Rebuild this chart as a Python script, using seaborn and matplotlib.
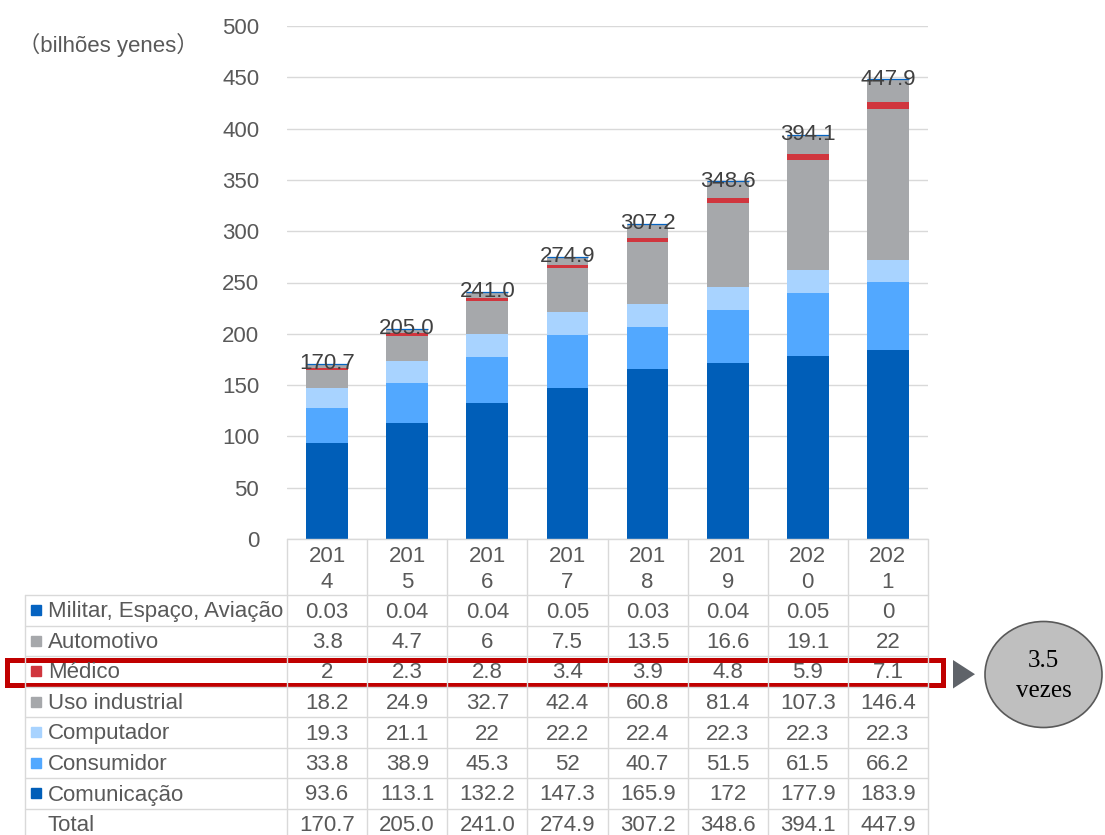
import matplotlib
matplotlib.use("Agg")
import matplotlib.pyplot as plt
import seaborn as sns
import numpy as np
import pandas as pd
from matplotlib.patches import Rectangle, Polygon, Ellipse

# ---------------- data ----------------
years = ["2014", "2015", "2016", "2017", "2018", "2019", "2020", "2021"]
comunicacao = [93.6, 113.1, 132.2, 147.3, 165.9, 172, 177.9, 183.9]
consumidor = [33.8, 38.9, 45.3, 52, 40.7, 51.5, 61.5, 66.2]
computador = [19.3, 21.1, 22, 22.2, 22.4, 22.3, 22.3, 22.3]
uso_industrial = [18.2, 24.9, 32.7, 42.4, 60.8, 81.4, 107.3, 146.4]
medico = [2, 2.3, 2.8, 3.4, 3.9, 4.8, 5.9, 7.1]
automotivo = [3.8, 4.7, 6, 7.5, 13.5, 16.6, 19.1, 22]
militar = [0.03, 0.04, 0.04, 0.05, 0.03, 0.04, 0.05, 0]
totals = [170.7, 205.0, 241.0, 274.9, 307.2, 348.6, 394.1, 447.9]

series_names = ["Comunicação", "Consumidor", "Computador", "Uso industrial",
                "Médico", "Automotivo", "Militar, Espaço, Aviação"]
series_values = [comunicacao, consumidor, computador, uso_industrial,
                 medico, automotivo, militar]
series_colors = ["#005EB8", "#52A8FF", "#A8D3FF", "#A6A8AB",
                 "#D0363E", "#A6A8AB", "#0563C1"]
y_ticks = [0, 50, 100, 150, 200, 250, 300, 350, 400, 450, 500]
unit_label = "（bilhões yenes）"
total_label = "Total"
growth_text = ["3.5", "vezes"]
highlight_series = "Médico"

# ---------------- style ----------------
sns.set_style("white")
plt.rcParams["font.family"] = ["Liberation Sans", "Noto Sans CJK JP", "DejaVu Sans"]
TXT = "#595959"
GRID = "#D9D9D9"
FS = 16

W, H = 1105, 835
fig = plt.figure(figsize=(W / 100, H / 100), dpi=100)

# plot area in pixel coords
px_left, px_right, px_top, px_bottom = 287, 928, 26, 539
ax = fig.add_axes([px_left / W, 1 - px_bottom / H,
                   (px_right - px_left) / W, (px_bottom - px_top) / H])

bottom = np.zeros(len(years))
for name, vals, col in zip(series_names, series_values, series_colors):
    df = pd.DataFrame({"year": years, "value": vals})
    is_top = name.startswith("Militar")
    sns.barplot(data=df, x="year", y="value", bottom=bottom, color=col,
                saturation=1, errorbar=None, width=0.52, ax=ax,
                linewidth=0.9 if is_top else 0,
                edgecolor=col if is_top else "none", zorder=3)
    bottom = bottom + np.array(vals)

for i, t in enumerate(totals):
    ax.text(i, t, f"{t:.1f}", ha="center", va="center", color="#404040",
            fontsize=FS, zorder=6)

ax.set_xlim(-0.5, len(years) - 0.5)
ax.set_ylim(0, 500)
ax.set_yticks(y_ticks)
ax.set_yticklabels([str(v) for v in y_ticks])
ax.tick_params(axis="y", length=0, pad=20, labelsize=FS, labelcolor=TXT)
ax.set_xticks([])
ax.set_xlabel("")
ax.set_ylabel("")
ax.grid(axis="y", color=GRID, linewidth=1, zorder=0)
ax.set_axisbelow(True)
for s in ax.spines.values():
    s.set_visible(False)

# ---------------- overlay (table & annotations) ----------------
ov = fig.add_axes([0, 0, 1, 1], zorder=10)
ov.set_xlim(0, W)
ov.set_ylim(H, 0)
ov.axis("off")
ov.patch.set_alpha(0)

ov.text(18, 45, unit_label, ha="left", va="center", fontsize=FS, color=TXT)

n = len(years)
col_w = (px_right - px_left) / n
row_top0 = 595
row_h = 30.5
table_left = 25
rows = list(reversed(list(zip(series_names, series_values, series_colors))))

# grid lines
ov.plot([px_left, px_right], [px_bottom, px_bottom], color=GRID, lw=1)
for i in range(n + 1):
    x = px_left + i * col_w
    ov.plot([x, x], [px_bottom, H], color=GRID, lw=1)
for j in range(len(rows) + 1):
    y = row_top0 + j * row_h
    ov.plot([table_left, px_right], [y, y], color=GRID, lw=1)
ov.plot([table_left, table_left], [row_top0, H], color=GRID, lw=1)

# header years (wrapped)
for i, yr in enumerate(years):
    cx = px_left + (i + 0.5) * col_w
    ov.text(cx, 557, yr[:3], ha="center", va="center", fontsize=FS, color=TXT)
    ov.text(cx, 583, yr[3:], ha="center", va="center", fontsize=FS, color=TXT)

# data rows
for j, (name, vals, col) in enumerate(rows):
    cy = row_top0 + j * row_h + 15
    ov.plot([36], [cy], marker="s", markersize=7, color=col, mec=col)
    ov.text(48, cy + 2, name, ha="left", va="center", fontsize=FS, color=TXT)
    for i, v in enumerate(vals):
        cx = px_left + (i + 0.5) * col_w
        ov.text(cx, cy + 2, f"{v:g}", ha="center", va="center", fontsize=FS, color=TXT)
cy = row_top0 + len(rows) * row_h + 15
ov.text(48, cy + 2, total_label, ha="left", va="center", fontsize=FS, color=TXT)
for i, t in enumerate(totals):
    cx = px_left + (i + 0.5) * col_w
    ov.text(cx, cy + 2, f"{t:.1f}", ha="center", va="center", fontsize=FS, color=TXT)

# highlight of the Médico row
hj = [r[0] for r in rows].index(highlight_series)
hy = row_top0 + hj * row_h
ov.add_patch(Rectangle((6.5, hy + 3.5), 936, 25, fill=False,
                       edgecolor="#C00000", lw=3.6))
ov.add_patch(Polygon([[953, 660], [953, 688.5], [975, 674.2]], closed=True,
                     facecolor="#5F6369", edgecolor="none"))
ov.add_patch(Ellipse((1043.5, 674.5), 117, 106, facecolor="#BFBFBF",
                     edgecolor="#595959", lw=1.2))
ov.text(1043.5, 661, growth_text[0], ha="center", va="center", fontsize=18,
        family="Liberation Serif", color="#000000")
ov.text(1043.5, 691, growth_text[1], ha="center", va="center", fontsize=18,
        family="Liberation Serif", color="#000000")

fig.savefig("out.png", dpi=100)
